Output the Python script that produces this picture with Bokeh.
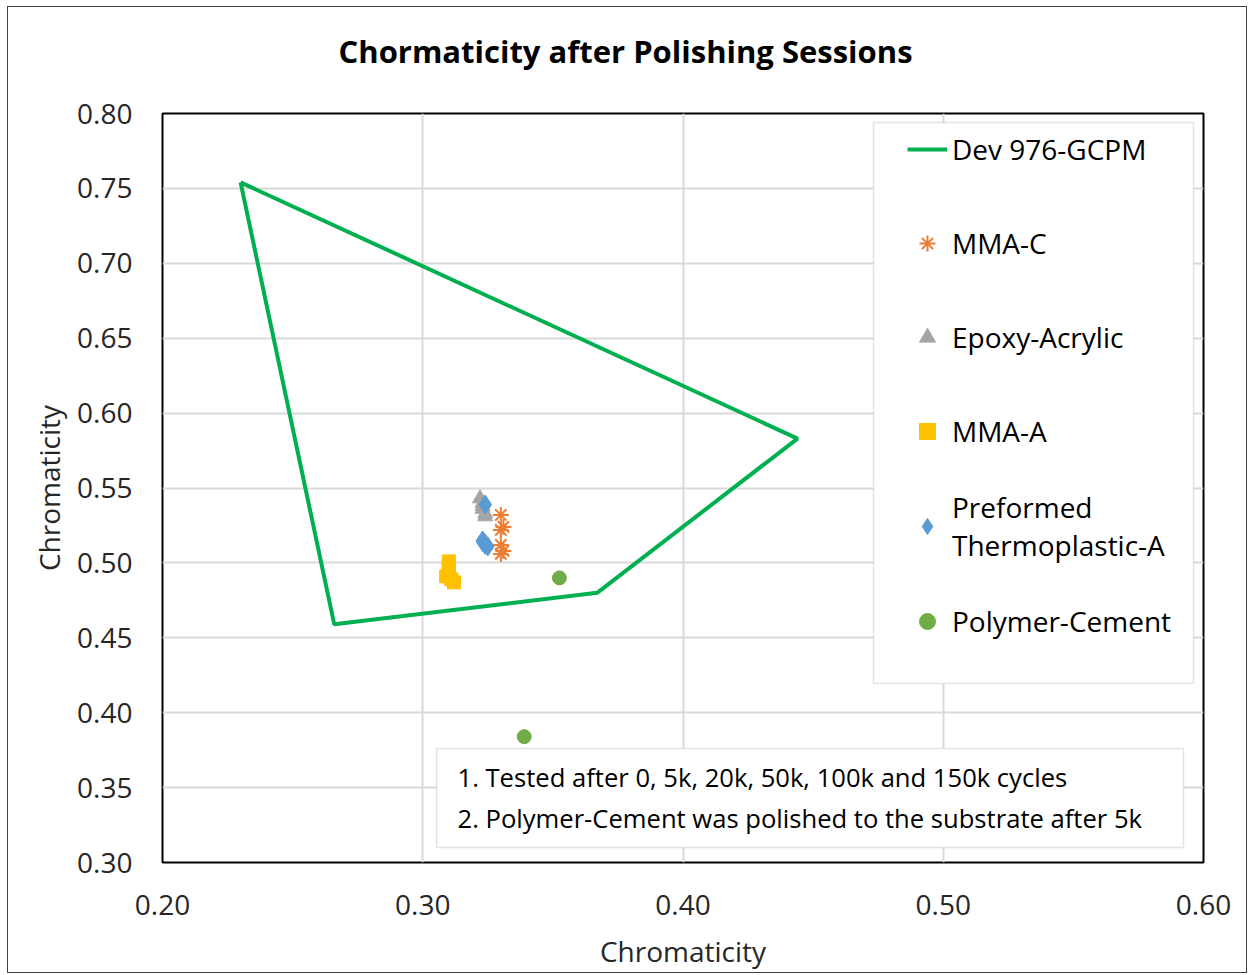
from bokeh.plotting import figure
from bokeh.models import (FixedTicker, NumeralTickFormatter, Legend, LegendItem,
                          BoxAnnotation, Label, Range1d, Title)
from bokeh.embed import file_html
from bokeh.resources import INLINE

FONT = "Open Sans"

# Dev 976-GCPM chromaticity boundary (closed polygon)
box_x = [0.230, 0.444, 0.367, 0.266, 0.230]
box_y = [0.754, 0.583, 0.480, 0.459, 0.754]

mma_c_x = [0.330, 0.331, 0.330, 0.330, 0.331, 0.330]
mma_c_y = [0.532, 0.524, 0.522, 0.512, 0.508, 0.506]

epoxy_x = [0.322, 0.323, 0.323, 0.324, 0.324, 0.323]
epoxy_y = [0.543, 0.540, 0.536, 0.533, 0.531, 0.538]

mma_a_x = [0.310, 0.310, 0.310, 0.309, 0.311, 0.312]
mma_a_y = [0.501, 0.498, 0.495, 0.491, 0.489, 0.487]

pta_x = [0.324, 0.323, 0.324, 0.325, 0.323, 0.324]
pta_y = [0.539, 0.515, 0.513, 0.511, 0.514, 0.512]

pc_x = [0.3525, 0.339]
pc_y = [0.490, 0.384]

x_ticks = [0.20, 0.30, 0.40, 0.50, 0.60]
y_ticks = [0.30, 0.35, 0.40, 0.45, 0.50, 0.55, 0.60, 0.65, 0.70, 0.75, 0.80]

title_text = "Chormaticity after Polishing Sessions"
axis_title = "Chromaticity"
notes = ["1. Tested after 0, 5k, 20k, 50k, 100k and 150k cycles",
         "2. Polymer-Cement was polished to the substrate after 5k"]

p = figure(frame_width=1041, frame_height=749,
           x_range=Range1d(0.2, 0.6), y_range=Range1d(0.3, 0.8),
           output_backend="svg", toolbar_location=None,
           min_border_left=154, min_border_right=43,
           min_border_top=106, min_border_bottom=110,
           background_fill_color="white", border_fill_color="white")
p.styles = {"border": "1px solid #404040", "margin-left": "7px", "margin-top": "6px"}

p.title.text = title_text
p.title.text_font = FONT
p.title.text_font_size = "31px"
p.title.text_font_style = "bold"
p.title.text_color = "black"
p.title.align = "left"
p.title.offset = 176
p.title.standoff = 0

# invisible spacer between the title and the plot frame
p.add_layout(Title(text=" ", text_font_size="1px", standoff=39), "above")

p.outline_line_color = "black"
p.outline_line_width = 2

for ax in (p.xaxis[0], p.yaxis[0]):
    ax.formatter = NumeralTickFormatter(format="0.00")
    ax.major_tick_line_color = None
    ax.minor_tick_line_color = None
    ax.major_tick_in = 0
    ax.major_tick_out = 0
    ax.axis_line_color = None
    ax.major_label_text_font = FONT
    ax.major_label_text_font_size = "28px"
    ax.major_label_text_color = "#262626"
    ax.axis_label = axis_title
    ax.axis_label_text_font = FONT
    ax.axis_label_text_font_size = "28px"
    ax.axis_label_text_font_style = "normal"
    ax.axis_label_text_color = "#262626"

p.xaxis.ticker = FixedTicker(ticks=x_ticks)
p.yaxis.ticker = FixedTicker(ticks=y_ticks)
p.xaxis.major_label_standoff = 32
p.yaxis.major_label_standoff = 30
p.xaxis.axis_label_standoff = 14
p.yaxis.axis_label_standoff = 6

p.grid.grid_line_color = "#d9d9d9"
p.grid.grid_line_width = 2

r_line = p.line(box_x, box_y, line_color="#00B050", line_width=4)
r_c = p.scatter(mma_c_x, mma_c_y, marker="asterisk", size=16,
                line_color="#ED7D31", line_width=2)
r_e = p.scatter(epoxy_x, epoxy_y, marker="triangle", size=15,
                fill_color="#A5A5A5", line_color="#A5A5A5")
r_a = p.scatter(mma_a_x, mma_a_y, marker="square", size=13,
                fill_color="#FFC000", line_color="#FFC000")
r_p = p.scatter(pta_x, pta_y, marker="diamond", size=19,
                fill_color="#5B9BD5", line_color="#5B9BD5")
r_g = p.scatter(pc_x, pc_y, marker="circle", size=14,
                fill_color="#70AD47", line_color="#70AD47")

# legend frame
p.add_layout(BoxAnnotation(left=711, right=1031, top=740, bottom=179,
                           left_units="screen", right_units="screen",
                           top_units="screen", bottom_units="screen",
                           fill_color="white", fill_alpha=1,
                           line_color="#a6a6a6", line_width=1.5))

legend = Legend(items=[
    LegendItem(label="Dev 976-GCPM", renderers=[r_line]),
    LegendItem(label="MMA-C", renderers=[r_c]),
    LegendItem(label="Epoxy-Acrylic", renderers=[r_e]),
    LegendItem(label="MMA-A", renderers=[r_a]),
    LegendItem(label="Preformed\nThermoplastic-A", renderers=[r_p]),
    LegendItem(label="Polymer-Cement", renderers=[r_g]),
], location=(745, 204), padding=8, spacing=20, glyph_width=40,
    glyph_height=74, label_height=74, label_standoff=5,
    label_text_font=FONT, label_text_font_size="28px",
    label_text_color="black", background_fill_alpha=0,
    border_line_color=None)
p.add_layout(legend)

# notes box
p.add_layout(BoxAnnotation(left=274, right=1021, top=114, bottom=15,
                           left_units="screen", right_units="screen",
                           top_units="screen", bottom_units="screen",
                           fill_color="white", fill_alpha=1,
                           line_color="#a6a6a6", line_width=1.5))
for txt, yy in zip(notes, [85, 44]):
    p.add_layout(Label(x=295, y=yy, x_units="screen", y_units="screen",
                       text=txt, text_font=FONT, text_font_size="25.6px",
                       text_color="black", text_align="left",
                       text_baseline="middle"))

open("out.html", "w").write(file_html(p, INLINE))
